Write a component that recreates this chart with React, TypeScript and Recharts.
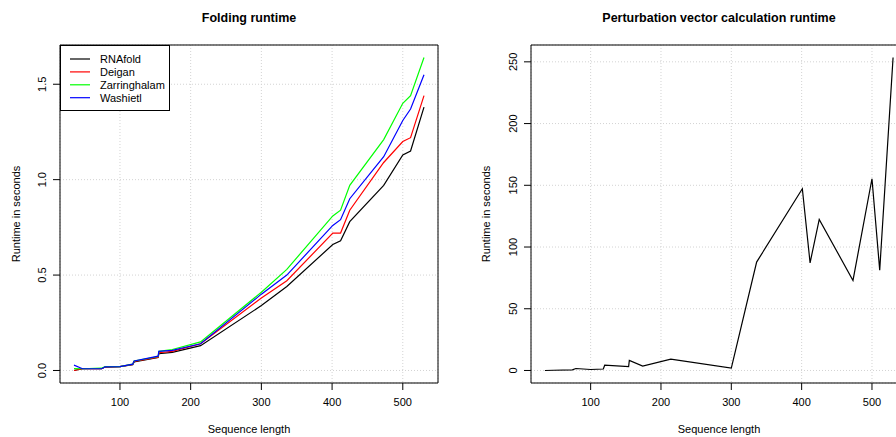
import React from 'react';
import { LineChart, Line, XAxis, YAxis, CartesianGrid, ReferenceArea, Legend } from 'recharts';

const seqLength = [35, 47, 74, 79, 100, 118, 120, 154, 155, 174, 214, 300, 336, 401, 412, 425, 473, 500, 511, 530];
const rnafold = [0.0, 0.009, 0.009, 0.018, 0.02, 0.03, 0.045, 0.068, 0.088, 0.095, 0.13, 0.34, 0.44, 0.66, 0.68, 0.78, 0.97, 1.13, 1.15, 1.38];
const deigan = [0.0, 0.009, 0.009, 0.018, 0.02, 0.032, 0.047, 0.07, 0.093, 0.1, 0.14, 0.38, 0.47, 0.72, 0.72, 0.84, 1.09, 1.2, 1.22, 1.44];
const zarringhalam = [0.01, 0.009, 0.012, 0.02, 0.02, 0.033, 0.05, 0.073, 0.1, 0.11, 0.15, 0.41, 0.53, 0.81, 0.84, 0.97, 1.21, 1.4, 1.44, 1.64];
const washietl = [0.028, 0.009, 0.009, 0.019, 0.02, 0.033, 0.05, 0.075, 0.1, 0.105, 0.14, 0.4, 0.5, 0.76, 0.79, 0.9, 1.12, 1.31, 1.37, 1.55];
const perturbation = [0.0, 0.2, 0.5, 1.6, 0.8, 1.2, 4.3, 3.2, 8.1, 3.5, 9.2, 1.9, 87.8, 147.2, 87.2, 122.4, 72.9, 155.3, 81.3, 253.5];

const xTicks = [100, 200, 300, 400, 500];
const foldTicks = [0, 0.5, 1.0, 1.5];
const pertTicks = [0, 50, 100, 150, 200, 250];

const seriesNames = ['RNAfold', 'Deigan', 'Zarringhalam', 'Washietl'];
const seriesColors = ['#000000', '#FF0000', '#00FF00', '#0000FF'];
const seriesKeys = ['rnafold', 'deigan', 'zarringhalam', 'washietl'];

const foldData = seqLength.map((x, i) => ({
  x,
  rnafold: rnafold[i],
  deigan: deigan[i],
  zarringhalam: zarringhalam[i],
  washietl: washietl[i],
}));
const pertData = seqLength.map((x, i) => ({ x, y: perturbation[i] }));

const FONT = '"Liberation Sans", Arial, Helvetica, sans-serif';

const xMin = 15.2;
const xMax = 549.8;
const foldDomain: [number, number] = [-0.0656, 1.7056];
const pertDomain: [number, number] = [-10.14, 263.64];

const makeRotTick = (fmt: (v: number) => string) => (props: any) => {
  const { x, y, payload } = props;
  return (
    <text
      x={x}
      y={y}
      transform={`rotate(-90 ${x} ${y})`}
      textAnchor="middle"
      fontSize={11}
      fontFamily={FONT}
      fill="#000"
    >
      {fmt(payload.value)}
    </text>
  );
};

const LegendBox = () => (
  <svg width={110} height={66} style={{ display: 'block' }}>
    <rect x={0.5} y={0.5} width={109} height={65} fill="#fff" stroke="#000" strokeWidth={1} />
    {seriesNames.map((n, i) => {
      const cy = 14 + i * 12.9;
      return (
        <g key={n}>
          <line x1={10} x2={30} y1={cy} y2={cy} stroke={seriesColors[i]} strokeWidth={1.2} />
          <text x={40} y={cy + 4} fontSize={11} fontFamily={FONT} fill="#000">{n}</text>
        </g>
      );
    })}
  </svg>
);

export default function App() {
  return (
    <div style={{ position: 'fixed', left: 0, top: 0, width: 896, height: 437, overflow: 'hidden', background: '#fff', fontFamily: FONT }}>
      <div style={{ position: 'absolute', left: 0, top: 0 }}>
        <LineChart width={448} height={437} data={foldData} margin={{ top: 45, right: 10, bottom: 0, left: 0 }}>
          <CartesianGrid stroke="#d3d3d3" strokeDasharray="1 2" />
          <XAxis
            dataKey="x"
            type="number"
            domain={[xMin, xMax]}
            allowDataOverflow
            ticks={xTicks}
            interval={0}
            height={54}
            axisLine={false}
            tickSize={7}
            tickMargin={8}
            tickLine={{ stroke: '#000' }}
            tick={{ fill: '#000', fontSize: 11, fontFamily: FONT }}
          />
          <YAxis
            type="number"
            domain={foldDomain}
            allowDataOverflow
            ticks={foldTicks}
            interval={0}
            width={60}
            axisLine={false}
            tickSize={7}
            tickMargin={7.4}
            tickLine={{ stroke: '#000' }}
            tick={makeRotTick((v) => v.toFixed(1))}
          />
          <ReferenceArea x1={xMin} x2={xMax} y1={foldDomain[0]} y2={foldDomain[1]} fill="none" fillOpacity={0} stroke="#000" strokeWidth={1} ifOverflow="visible" />
          {seriesKeys.map((k, i) => (
            <Line key={k} dataKey={k} name={seriesNames[i]} stroke={seriesColors[i]} strokeWidth={1.2} dot={false} isAnimationActive={false} type="linear" />
          ))}
          <Legend layout="vertical" align="center" verticalAlign="middle" wrapperStyle={{ left: 60, top: 45, width: 110, height: 66 }} content={() => <LegendBox />} />
        </LineChart>
      </div>
      <div style={{ position: 'absolute', left: 448, top: 0 }}>
        <LineChart width={469} height={437} data={pertData} margin={{ top: 45, right: 10, bottom: 0, left: 0 }}>
          <CartesianGrid stroke="#d3d3d3" strokeDasharray="1 2" />
          <XAxis
            dataKey="x"
            type="number"
            domain={[xMin, xMax]}
            allowDataOverflow
            ticks={xTicks}
            interval={0}
            height={54}
            axisLine={false}
            tickSize={7}
            tickMargin={8}
            tickLine={{ stroke: '#000' }}
            tick={{ fill: '#000', fontSize: 11, fontFamily: FONT }}
          />
          <YAxis
            type="number"
            domain={pertDomain}
            allowDataOverflow
            ticks={pertTicks}
            interval={0}
            width={83}
            axisLine={false}
            tickSize={7}
            tickMargin={7.4}
            tickLine={{ stroke: '#000' }}
            tick={makeRotTick((v) => String(v))}
          />
          <ReferenceArea x1={xMin} x2={xMax} y1={pertDomain[0]} y2={pertDomain[1]} fill="none" fillOpacity={0} stroke="#000" strokeWidth={1} ifOverflow="visible" />
          <Line dataKey="y" stroke="#000" strokeWidth={1.2} dot={false} isAnimationActive={false} type="linear" />
        </LineChart>
      </div>
      <svg width={896} height={437} style={{ position: 'absolute', left: 0, top: 0, pointerEvents: 'none' }}>
        <text x={249} y={22} textAnchor="middle" fontSize={12.5} fontWeight="bold" fontFamily={FONT} fill="#000">Folding runtime</text>
        <text x={719} y={22} textAnchor="middle" fontSize={12.5} fontWeight="bold" fontFamily={FONT} fill="#000">Perturbation vector calculation runtime</text>
        <text x={249} y={433} textAnchor="middle" fontSize={11} fontFamily={FONT} fill="#000">Sequence length</text>
        <text x={719} y={433} textAnchor="middle" fontSize={11} fontFamily={FONT} fill="#000">Sequence length</text>
        <text x={20} y={214} transform="rotate(-90 20 214)" textAnchor="middle" fontSize={11} fontFamily={FONT} fill="#000">Runtime in seconds</text>
        <text x={490} y={214} transform="rotate(-90 490 214)" textAnchor="middle" fontSize={11} fontFamily={FONT} fill="#000">Runtime in seconds</text>
      </svg>
    </div>
  );
}
